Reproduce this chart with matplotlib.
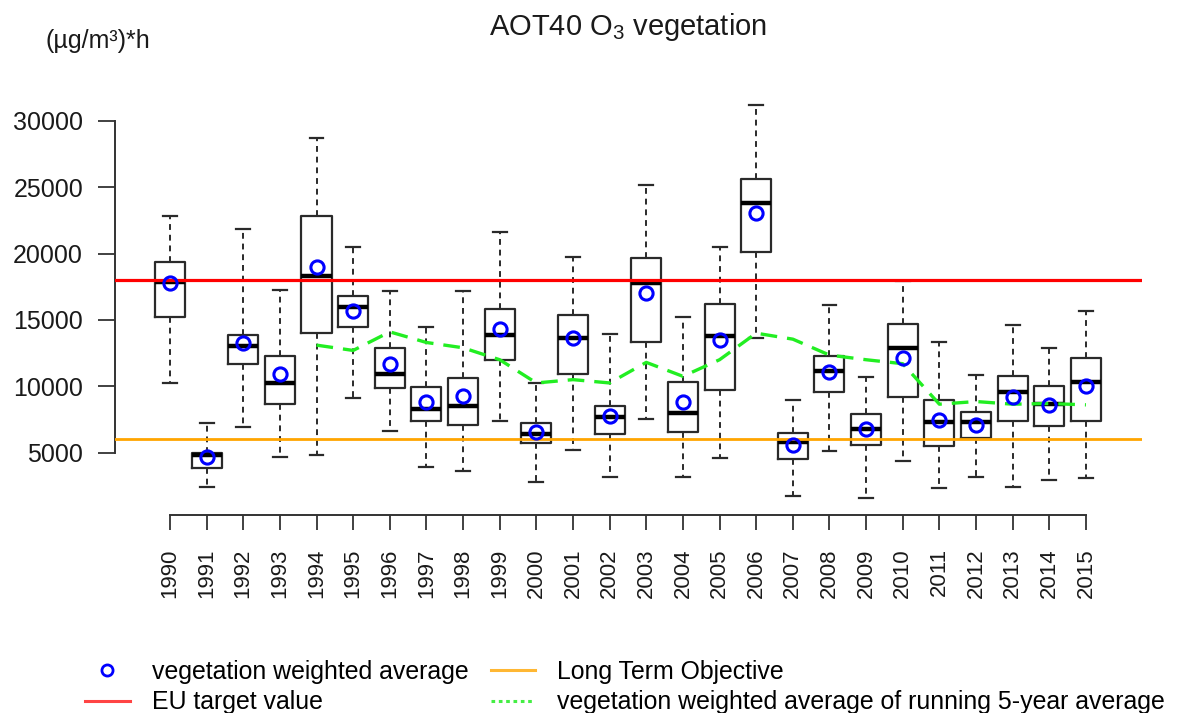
import matplotlib
matplotlib.use("Agg")
import matplotlib.pyplot as plt
from matplotlib.lines import Line2D
import numpy as np

plt.rcParams['font.family'] = ['Liberation Sans', 'DejaVu Sans']
plt.rcParams['mathtext.fontset'] = 'custom'
plt.rcParams['mathtext.rm'] = 'Liberation Sans'

# AOT40 per year: box statistics over stations, plus weighted averages
years = np.arange(1990, 2016)
whis_hi = [22800, 7250, 21850, 17250, 28700, 20500, 17150, 14500, 17200, 21650,
           10250, 19750, 13950, 25150, 15200, 20500, 31200, 8950, 16100, 10700,
           17900, 13350, 10850, 14600, 12850, 15650]
q3 = [19400, 4980, 13850, 12250, 22850, 16800, 12900, 9950, 10650, 15800,
      7250, 15400, 8550, 19650, 10300, 16200, 25650, 6500, 12250, 7900,
      14700, 9000, 8050, 10800, 10000, 12100]
median = [17850, 4800, 13050, 10250, 18300, 15950, 10950, 8300, 8500, 13850,
          6400, 13650, 7650, 17800, 8000, 13800, 23800, 5800, 11150, 6800,
          12850, 7300, 7300, 9600, 8700, 10350]
q1 = [15200, 3850, 11700, 8700, 14050, 14450, 9850, 7350, 7100, 11950,
      5750, 10950, 6400, 13300, 6550, 9700, 20150, 4500, 9550, 5600,
      9200, 5500, 6100, 7400, 7000, 7400]
whis_lo = [10250, 2400, 6900, 4650, 4800, 9100, 6600, 3950, 3600, 7400,
           2800, 5200, 3200, 7500, 3200, 4600, 13650, 1750, 5150, 1600,
           4350, 2300, 3200, 2400, 2950, 3100]
veg_mean = [17750, 4650, 13250, 10900, 18950, 15700, 11700, 8850, 9300, 14300,
            6550, 13600, 7750, 17050, 8850, 13500, 23050, 5600, 11100, 6750,
            12150, 7450, 7100, 9200, 8600, 10000]

run_years = np.arange(1994, 2016)
run_mean = [13100, 12700, 14100, 13300, 12900, 12000, 10250, 10500, 10250, 11800,
            10750, 12000, 14000, 13550, 12350, 12000, 11700, 8650, 8850, 8650,
            8700, 8600]

eu_target = 18000
long_term_obj = 6000

W, H = 1182, 713
fig = plt.figure(figsize=(W / 100, H / 100), dpi=100)
ax = fig.add_axes([115 / W, 1 - 515 / H, 1027 / W, 426 / H])

stats = [dict(med=m, q1=a, q3=b, whislo=lo, whishi=hi, fliers=[])
         for m, a, b, lo, hi in zip(median, q1, q3, whis_lo, whis_hi)]
ax.bxp(stats, positions=years, widths=0.82, showfliers=False,
       boxprops=dict(color='#2a2a2a', linewidth=1.6),
       medianprops=dict(color='black', linewidth=3.2, solid_capstyle='butt'),
       whiskerprops=dict(color='#2a2a2a', linewidth=1.4, linestyle=(0, (3, 2.5))),
       capprops=dict(color='#2a2a2a', linewidth=1.6),
       capwidths=0.38, manage_ticks=False, zorder=2)

ax.axhline(eu_target, color='#ff0000', linewidth=2.3, zorder=3)
ax.axhline(long_term_obj, color='#ffa500', linewidth=2.0, zorder=3)
ax.plot(run_years, run_mean, color='#22ee22', linewidth=2.4,
        linestyle=(0, (5, 3)), zorder=4)
ax.plot(years, veg_mean, linestyle='none', marker='o', markersize=9.5,
        markerfacecolor='none', markeredgecolor='#0000ff', markeredgewidth=2.2,
        zorder=5)

ax.set_xlim(1988.5, 2016.53)
ax.set_ylim(300, 32400)

for side in ['top', 'right']:
    ax.spines[side].set_visible(False)
ax.spines['left'].set_bounds(5000, 30000)
ax.spines['bottom'].set_bounds(1990, 2015)
for side in ['left', 'bottom']:
    ax.spines[side].set_color('#333333')
    ax.spines[side].set_linewidth(1.4)

ax.set_yticks([5000, 10000, 15000, 20000, 25000, 30000])
ax.set_xticks(years)
ax.set_xticklabels([str(y) for y in years], rotation=90)
ax.tick_params(axis='y', length=12, width=1.3, pad=11, labelsize=18,
               colors='#333333', labelcolor='#1a1a1a')
ax.tick_params(axis='x', length=11, width=1.3, pad=13, labelsize=16,
               colors='#333333', labelcolor='#1a1a1a')

fig.text(628 / W, 1 - 27 / H, r'AOT40 O$_\mathregular{3}$ vegetation',
         ha='center', va='center', fontsize=21, color='#1a1a1a')
fig.text(45 / W, 1 - 41 / H, '(µg/m³)*h', ha='left', va='center',
         fontsize=18, color='#1a1a1a')

handles = [
    Line2D([], [], linestyle='none', marker='o', markersize=8,
           markerfacecolor='none', markeredgecolor='#0000ff', markeredgewidth=2),
    Line2D([], [], color='#ff4444', linewidth=2.2),
    Line2D([], [], color='#ffb733', linewidth=2.2),
    Line2D([], [], color='#44ee44', linewidth=2.2, linestyle=(0, (1.2, 1.2))),
]
labels = ['vegetation weighted average', 'EU target value',
          'Long Term Objective',
          'vegetation weighted average of running 5-year average']
fig.legend(handles, labels, ncol=2, frameon=False, fontsize=17.9,
           loc='upper left', bbox_to_anchor=(85 / W, 1 - 660 / H),
           handlelength=1.8, handletextpad=0.88, columnspacing=0.9,
           labelspacing=0.25, borderpad=0, borderaxespad=0)

fig.savefig('out.png', dpi=100, facecolor='white')
